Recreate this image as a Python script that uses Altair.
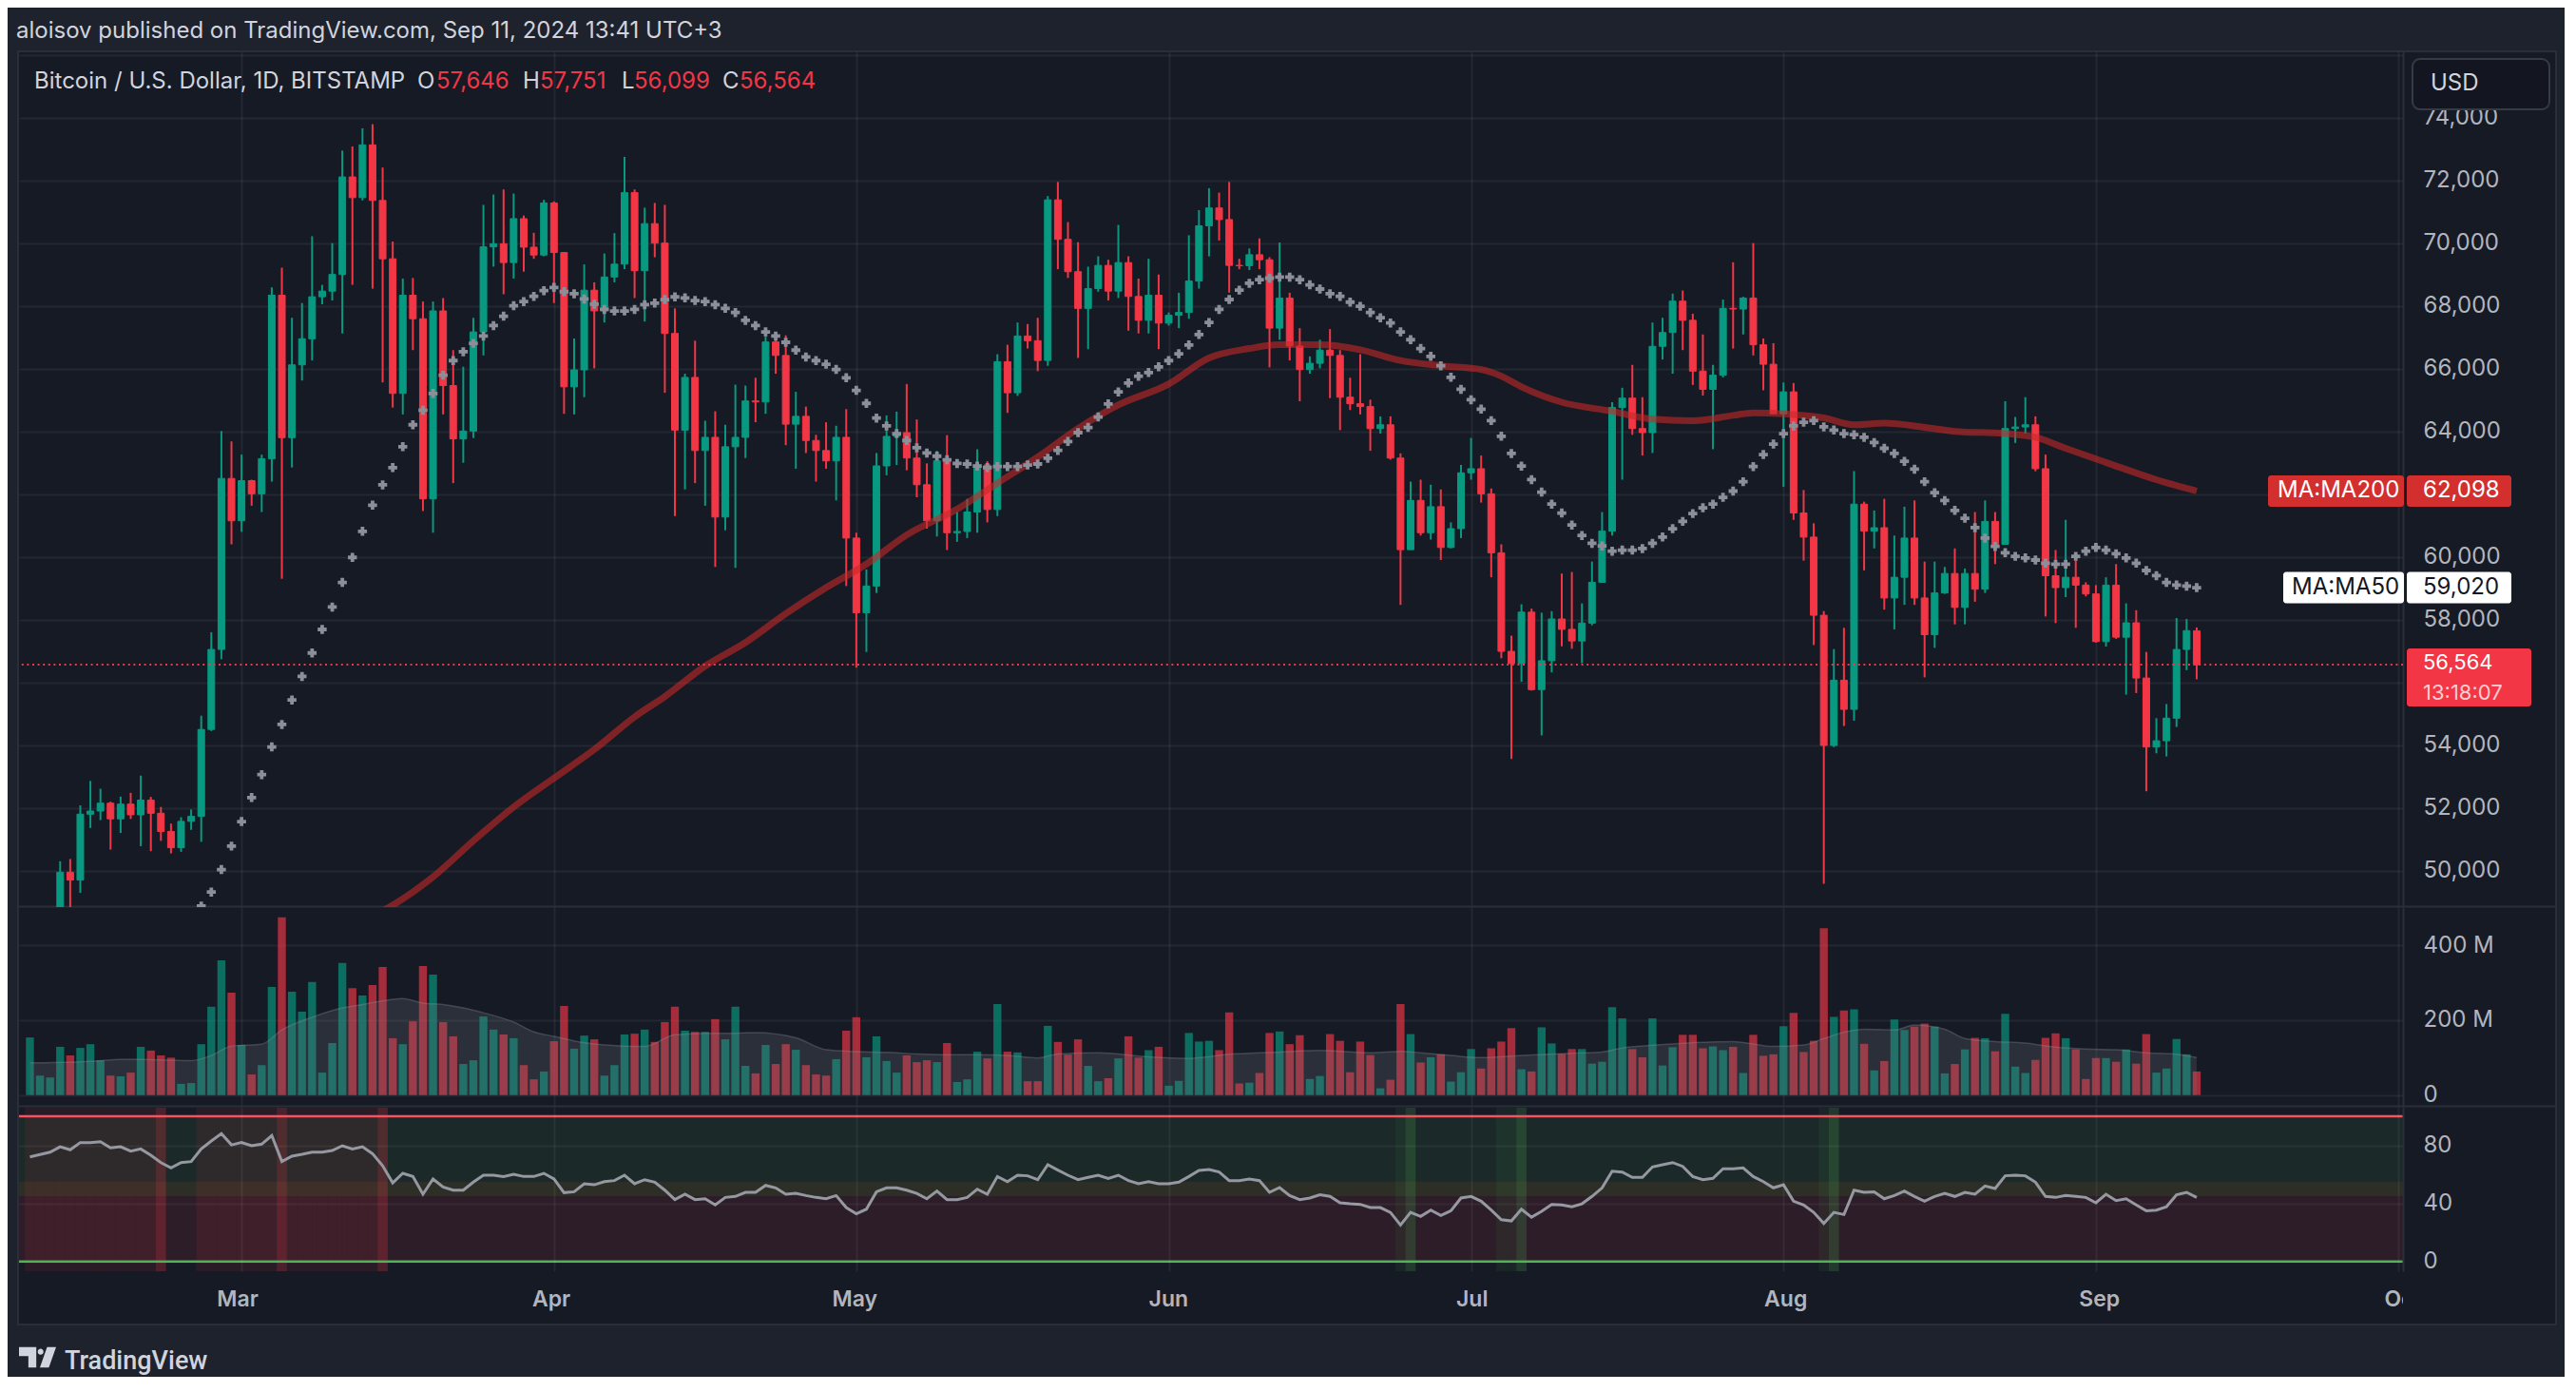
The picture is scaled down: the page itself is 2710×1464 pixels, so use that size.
import altair as alt
import pandas as pd

# ---------------- data ----------------
dates = pd.date_range("2024-02-09", "2024-09-11", freq="D").strftime("%Y-%m-%d").tolist()

opens = [
    45300, 47150, 47770, 48300, 49950, 49700, 51800, 51900, 52150, 51650, 52120, 51780, 52250, 51830, 51250, 50730, 51570, 51730, 54500, 57050, 62500,
    61150, 62430, 62010, 63130, 68340, 63800, 66120, 66950, 68290, 68470, 69000, 72110, 71450, 73130, 71360, 69500, 65210, 68340, 67590, 61850, 67840, 65460, 63760, 64010, 67170, 69880, 69980, 69380, 70780, 69870, 69620,
    71280, 69700, 65420, 65960, 68500, 67840, 68920, 69330, 71610, 69120, 70620, 70000, 67120, 64040, 65720, 63390, 63810, 61270, 63510, 63810, 64970, 64940, 66850, 66420, 64230, 64480, 63710, 63390, 63060, 63810,
    60600, 58220, 59070, 62900, 63840, 63960, 63150, 62300, 61150, 63060, 60770, 60810, 61430, 62930, 61510, 66220, 65230, 67040, 66890, 66260, 71380, 70120, 69090, 67920, 68550, 69290, 68470, 69380, 68300, 67540, 68340,
    67450, 67700, 67790, 68790, 70550, 71120, 70750, 69290, 69280, 69630, 69470, 67290, 68250, 66720, 65970, 66170, 66590, 66420, 65090, 64880, 64790, 64090, 64210, 63150, 60230, 61800, 60770, 61600, 60300, 60900,
    62680, 62810, 62010, 60130, 56990, 56600, 58240, 55770, 56690, 58020, 57690, 57320, 57890, 59190, 60820, 64760, 65060, 64090, 63960, 66710, 67150, 68150, 67540, 65920, 65340, 65790, 67920, 67900, 68250, 66760, 66140,
    64560, 65260, 61400, 60630, 58140, 53990, 56070, 55140, 61680, 60820, 60930, 58690, 59350, 60600, 58690, 57520, 58850, 59470, 58390, 59470, 58970, 61130, 60400, 64090, 64140, 64210, 62810, 59400, 59020, 59350, 59100,
    58820, 57300, 59100, 57440, 57900, 56140, 53940, 54140, 54860, 57050, 57646,
]
highs = [
    48200, 48150, 48600, 50300, 50370, 52080, 52860, 52610, 52200, 52360, 52480, 53030, 52350, 52030, 51500, 51700, 51950, 54940, 57600, 64010, 63680,
    63260, 62460, 63260, 68590, 69220, 67620, 68090, 70220, 68670, 70000, 72950, 73080, 73660, 73790, 72410, 70050, 68870, 68890, 68140, 68140, 68250, 66590, 66060, 67620, 71220, 71550, 71710, 71580, 70880, 70330, 71380,
    71330, 69700, 66960, 69320, 68750, 69670, 70320, 72750, 71710, 71130, 71280, 71220, 67920, 65840, 66890, 64340, 64640, 64210, 65490, 65460, 65710, 67260, 67170, 67060, 65260, 64790, 63890, 64290, 64180, 64710,
    60770, 59600, 63310, 64510, 64630, 65510, 64380, 62980, 63380, 63880, 61430, 61850, 63430, 63050, 66460, 66760, 67470, 67420, 67620, 71500, 71950, 70670, 70030, 69250, 69580, 69470, 70580, 69580, 68870, 69500, 69000,
    67790, 68420, 70250, 71050, 71750, 71610, 71950, 69500, 69830, 70150, 69550, 70020, 68420, 67290, 66390, 66920, 67260, 66590, 65710, 66460, 65010, 64480, 64480, 63300, 62400, 62460, 62300, 62150, 61100, 62930,
    63790, 63230, 62180, 60400, 57490, 58490, 58350, 58220, 58270, 59470, 59520, 58520, 59850, 61430, 64930, 65390, 66120, 65090, 67470, 67620, 68390, 68490, 67750, 67090, 66120, 68200, 69390, 68290, 70000, 66960, 66810,
    65560, 65540, 62130, 61070, 58270, 57060, 57740, 62730, 61760, 61480, 61850, 60680, 61600, 61800, 59850, 59850, 59680, 60270, 59630, 61430, 61800, 61430, 64960, 64460, 65090, 64480, 63260, 60220, 61180, 59880, 59190,
    59100, 59350, 59770, 58520, 58300, 56970, 54860, 55310, 58050, 58020, 57751,
]
lows = [
    45250, 46800, 47700, 47700, 48400, 49290, 51360, 51610, 50670, 51200, 51650, 50780, 50620, 50950, 50550, 50600, 51300, 50920, 54450, 56740, 60400,
    60800, 61630, 61430, 62400, 59300, 62850, 65620, 66260, 68050, 68170, 67120, 68670, 71360, 68550, 65560, 64760, 64540, 66590, 61460, 60770, 64540, 62350, 63000, 63790, 66420, 69250, 68370, 68870, 69090, 69500, 69580,
    68090, 64560, 64540, 65090, 66010, 67470, 68750, 69170, 68250, 67500, 69550, 65230, 61300, 62150, 62350, 61630, 59680, 60850, 59650, 63150, 64290, 64560, 65840, 63560, 62810, 63310, 62400, 62810, 61800, 59070,
    56470, 56970, 58850, 62600, 62930, 62760, 61900, 60900, 60650, 60220, 60480, 60600, 60770, 61100, 61300, 64590, 65130, 66640, 65920, 66090, 69170, 68890, 66340, 66620, 68450, 68170, 68250, 67210, 67120, 67120, 66620,
    67370, 67290, 67590, 68550, 69580, 70080, 68420, 69170, 69140, 69170, 66040, 66920, 66260, 64960, 65840, 66010, 65060, 64040, 64680, 64540, 63380, 63930, 63100, 58470, 60230, 60680, 60550, 59900, 60270, 60600,
    62460, 61730, 59350, 56770, 53560, 56020, 55740, 54310, 56320, 57150, 57070, 56610, 57820, 59180, 60680, 62460, 63890, 63230, 63310, 66290, 65840, 66590, 65480, 65140, 63430, 65720, 66640, 67090, 66420, 65310, 64550,
    62230, 61180, 59880, 57190, 49580, 53940, 54610, 54780, 59570, 60270, 58320, 57690, 58470, 58470, 56160, 57100, 58820, 57850, 57850, 58570, 58850, 59770, 60390, 63630, 63930, 62730, 58100, 57890, 58720, 57740, 58740,
    57270, 57140, 57390, 55610, 55660, 52530, 53740, 53640, 54580, 56390, 56099,
]
closes = [
    47150, 47770, 48300, 49950, 49700, 51800, 51900, 52150, 51650, 52120, 51780, 52250, 51830, 51250, 50730, 51570, 51730, 54500, 57050, 62500, 61150,
    62430, 62010, 63130, 68340, 63800, 66120, 66950, 68290, 68470, 69000, 72110, 71450, 73130, 71360, 69500, 65210, 68340, 67590, 61850, 67840, 65460, 63760, 64010, 67170, 69880, 69980, 69380, 70780, 69870, 69620, 71280,
    69700, 65420, 65960, 68500, 67840, 68920, 69330, 71610, 69120, 70620, 70000, 67120, 64040, 65720, 63390, 63810, 61270, 63510, 63810, 64970, 64940, 66850, 66420, 64230, 64480, 63710, 63390, 63060, 63810, 60600,
    58220, 59070, 62900, 63840, 63960, 63150, 62300, 61150, 63060, 60770, 60810, 61430, 62930, 61510, 66220, 65230, 67040, 66890, 66260, 71380, 70120, 69090, 67920, 68550, 69290, 68470, 69380, 68300, 67540, 68340, 67450,
    67700, 67790, 68790, 70550, 71120, 70750, 69290, 69280, 69630, 69470, 67290, 68250, 66720, 65970, 66170, 66590, 66420, 65090, 64880, 64790, 64090, 64210, 63150, 60230, 61800, 60770, 61600, 60300, 60900, 62680,
    62810, 62010, 60130, 56990, 56600, 58240, 55770, 56690, 58020, 57690, 57320, 57890, 59190, 60820, 64760, 65060, 64090, 63960, 66710, 67150, 68150, 67540, 65920, 65340, 65790, 67920, 67900, 68250, 66760, 66140, 64560,
    65260, 61400, 60630, 58140, 53990, 56070, 55140, 61680, 60820, 60930, 58690, 59350, 60600, 58690, 57520, 58850, 59470, 58390, 59470, 58970, 61130, 60400, 64090, 64140, 64210, 62810, 59400, 59020, 59350, 59100, 58820,
    57300, 59100, 57440, 57900, 56140, 53940, 54140, 54860, 57050, 57650, 56564,
]
volume_m = [
    154, 52, 47, 129, 106, 126, 136, 93, 52, 50, 60, 129, 119, 106, 100, 30, 32, 136, 236, 360, 274,
    134, 55, 80, 289, 475, 276, 223, 302, 60, 139, 353, 286, 266, 294, 342, 152, 136, 197, 345, 322, 195, 157, 83, 93, 210, 175, 162, 152, 80, 42, 63,
    144, 238, 124, 159, 149, 52, 80, 162, 164, 175, 142, 195, 236, 172, 169, 169, 203, 149, 236, 78, 58, 134, 83, 136, 121, 80, 55, 52, 96, 172,
    208, 101, 157, 91, 60, 106, 88, 93, 88, 139, 35, 42, 116, 98, 243, 116, 114, 37, 37, 185, 142, 108, 149, 78, 37, 45, 98, 157, 100, 120, 129,
    25, 38, 166, 143, 145, 120, 221, 31, 33, 59, 166, 170, 136, 160, 43, 51, 163, 145, 61, 143, 107, 18, 41, 243, 163, 87, 101, 109, 36, 61,
    123, 71, 125, 143, 179, 69, 63, 181, 138, 110, 123, 123, 84, 89, 235, 205, 123, 101, 205, 79, 128, 161, 161, 125, 130, 120, 129, 59, 161, 105, 109,
    184, 220, 115, 145, 446, 209, 226, 229, 137, 66, 91, 202, 174, 183, 191, 183, 58, 83, 122, 153, 152, 117, 217, 76, 59, 94, 153, 165, 152, 122, 43,
    99, 99, 89, 122, 84, 163, 60, 71, 150, 109, 63,
]
rsi_vals = [
    72, 73.6, 75.3, 79, 76.9, 81.9, 81.9, 82.5, 78.2, 79, 76, 77.5, 73.1, 68.1, 64.4, 68.1, 68.8, 77.5, 83, 88, 80.3,
    81.9, 79.7, 80.8, 86.7, 68.8, 72.5, 73.8, 75.3, 75.3, 76.4, 79.7, 77.5, 79, 74.2, 65.9, 54.1, 60.7, 58.5, 46.3, 56.8, 51.3, 49.1, 49.1, 54.6, 59.4, 59.4, 58.5, 60, 58.5, 58.5, 60.7,
    56.8, 47.4, 48, 53.5, 52.8, 55, 55.7, 59.4, 53.5, 56.3, 54.6, 49.1, 42.6, 46.3, 42.6, 43.2, 38.9, 44.1, 44.8, 47.6, 47.6, 52.4, 50.7, 46.3, 46.9, 45.4, 44.1, 43.2, 45.4, 37.1,
    32.8, 36, 48, 50.7, 50.7, 49.1, 46.9, 43.2, 48.5, 42.6, 42.6, 44.1, 49.8, 46.3, 58.5, 55, 59.4, 59, 56.3, 66.6, 62.9, 59.4, 56.3, 57.9, 59.4, 57.2, 59.4, 55.7, 53.5, 55, 53.5,
    53.5, 54.6, 58.5, 62.7, 63.3, 61.6, 55.7, 55.7, 56.8, 55.7, 47.6, 50.9, 45.4, 42.6, 43.7, 45.9, 44.8, 40.4, 39.7, 39.3, 37.1, 37.1, 33.8, 25.1, 33.8, 31, 35.4, 31.7, 34.9, 43.7,
    44.8, 41.5, 35.4, 28.8, 27.9, 36, 30.5, 34.5, 39.3, 38.9, 37.6, 39.7, 44.8, 50.7, 62.2, 61.6, 57.9, 57.9, 65.1, 66.6, 68.1, 65.5, 58.5, 56.3, 57.2, 63.8, 63.8, 64.4, 58.5, 55, 50.7,
    52.8, 41.5, 38.9, 33.8, 26.2, 33.8, 32.3, 49.1, 47.6, 48, 43.2, 45.4, 48.5, 44.8, 41.5, 44.8, 46.9, 44.8, 47.6, 46.3, 52, 50.2, 59, 59.4, 59, 54.6, 44.8, 44.1, 45.4, 44.8, 44.1,
    40.4, 46.3, 41.9, 43.2, 38.9, 34.9, 35.4, 37.6, 45.9, 47.6, 44.1,
]
ma50_dates = pd.date_range("2024-02-26", "2024-09-11", freq="D").strftime("%Y-%m-%d").tolist()
ma50_vals = [
    48870, 49318, 50033, 50782,
    51564, 52329, 53062, 53943, 54659, 55441, 56190, 56938, 57687, 58403, 59185, 59983, 60815, 61647, 62296, 62845, 63511, 64210, 64676, 65208, 65790, 66256, 66539, 66805, 67038, 67371, 67671, 68003, 68136, 68303, 68486,
    68586, 68453, 68386, 68220, 68053, 67887, 67837, 67837, 67887, 68037, 68087, 68200, 68286, 68253, 68170, 68136, 68037, 67920, 67787, 67537, 67371, 67171, 67038, 66839, 66589, 66373, 66256, 66140, 65973, 65707,
    65308, 64892, 64426, 64176, 63927, 63710, 63478, 63311, 63211, 63095, 62978, 62961, 62895, 62845, 62878, 62878, 62878, 62928, 62961, 63145, 63394, 63677, 63960, 64126, 64459, 64875, 65258, 65541, 65757, 65874, 66057,
    66256, 66473, 66755, 67088, 67471, 67887, 68203, 68502, 68719, 68835, 68885, 68918, 68918, 68835, 68669, 68536, 68386, 68303, 68120, 67987, 67787, 67621, 67454, 67171, 66922, 66639, 66389, 66090, 65724, 65341,
    65008, 64709, 64343, 63844, 63295, 62895, 62463, 62063, 61681, 61398, 61015, 60682, 60432, 60349, 60183, 60216, 60216, 60266, 60433, 60632, 60899, 61131, 61381, 61564, 61681, 61897, 62097, 62396, 62878, 63261, 63594,
    63927, 64176, 64293, 64343, 64143, 64043, 63927, 63894, 63810, 63644, 63461, 63295, 63045, 62795, 62396, 62047, 61797, 61481, 61231, 60932, 60599, 60333, 60133, 60017, 59967, 59900, 59800, 59767, 59767, 60017, 60183,
    60300, 60216, 60100, 59967, 59800, 59567, 59401, 59185, 59101, 59068, 59020,
]
ma200_dates = ["2024-03-13", "2024-03-16", "2024-03-20", "2024-03-24", "2024-03-28", "2024-04-01", "2024-04-05", "2024-04-09", "2024-04-12", "2024-04-16",
               "2024-04-20", "2024-04-24", "2024-04-28", "2024-05-02", "2024-05-06", "2024-05-11", "2024-05-15", "2024-05-19", "2024-05-23", "2024-05-27",
               "2024-06-01", "2024-06-05", "2024-06-09", "2024-06-12", "2024-06-16", "2024-06-20", "2024-06-24", "2024-06-28", "2024-07-02", "2024-07-04",
               "2024-07-06", "2024-07-10", "2024-07-15", "2024-07-19", "2024-07-23", "2024-07-27", "2024-07-29", "2024-08-01", "2024-08-05", "2024-08-08",
               "2024-08-11", "2024-08-15", "2024-08-18", "2024-08-23", "2024-08-26", "2024-08-29", "2024-09-02", "2024-09-07", "2024-09-11"]
ma200_vals = [48400, 48900, 49800, 50950, 52030, 52950, 53860, 54900, 55550, 56520,
              57270, 58190, 59020, 59770, 60700, 61520, 62350, 63180, 64090, 64840,
              65510, 66340, 66640, 66760, 66760, 66600, 66260, 66090, 65970, 65760,
              65420, 64930, 64640, 64390, 64340, 64510, 64590, 64560, 64430, 64210,
              64260, 64130, 64000, 63930, 63810, 63460, 63010, 62460, 62098]
volma_dates = ["2024-02-09", "2024-02-14", "2024-02-19", "2024-02-25", "2024-02-27", "2024-02-29",
               "2024-03-03", "2024-03-05", "2024-03-08", "2024-03-11", "2024-03-13", "2024-03-17", "2024-03-19", "2024-03-21", "2024-03-23", "2024-03-25", "2024-03-28", "2024-03-30",
               "2024-04-01", "2024-04-04", "2024-04-08", "2024-04-10", "2024-04-13", "2024-04-16", "2024-04-18", "2024-04-21", "2024-04-25", "2024-04-28",
               "2024-05-01", "2024-05-04", "2024-05-07", "2024-05-10", "2024-05-13", "2024-05-16", "2024-05-19", "2024-05-21", "2024-05-25", "2024-05-30",
               "2024-06-03", "2024-06-07", "2024-06-12", "2024-06-16", "2024-06-21", "2024-06-24", "2024-06-26", "2024-06-29",
               "2024-07-02", "2024-07-06", "2024-07-11", "2024-07-14", "2024-07-16", "2024-07-19", "2024-07-23", "2024-07-27", "2024-07-31",
               "2024-08-03", "2024-08-05", "2024-08-07", "2024-08-09", "2024-08-12", "2024-08-14", "2024-08-17", "2024-08-19", "2024-08-22", "2024-08-25", "2024-08-28", "2024-08-31",
               "2024-09-03", "2024-09-06", "2024-09-09", "2024-09-11"]
volma_vals = [86, 89, 96, 92, 106, 131,
              136, 174, 208, 233, 242, 258, 246, 242, 233, 220, 195, 169,
              157, 140, 131, 130, 161, 165, 165, 167, 153, 121,
              116, 114, 110, 108, 108, 106, 99, 110, 113, 102,
              98, 109, 115, 119, 113, 117, 113, 106,
              100, 106, 112, 115, 126, 133, 140, 143, 130,
              134, 151, 168, 176, 174, 187, 176, 151, 143, 139, 128, 123,
              121, 113, 109, 100]
month_starts = ["2024-03-01", "2024-04-01", "2024-05-01", "2024-06-01", "2024-07-01", "2024-08-01", "2024-09-01", "2024-10-01"]
month_labels = ["Mar", "Apr", "May", "Jun", "Jul", "Aug", "Sep", "Oct"]
rsi_zone_lo = [55, 45, 0]
rsi_zone_hi = [100, 55, 45]
price_ticks = list(range(50000, 76001, 2000))
vol_ticks = [0, 200, 400]
rsi_ticks = [0, 40, 80]
countdown = "13:18:07"

# ---------------- tables ----------------
df = pd.DataFrame({"date": dates, "open": opens, "high": highs, "low": lows, "close": closes,
                   "vol": volume_m, "rsi": rsi_vals})
df["dir"] = ["up" if c >= o else "down" for o, c in zip(opens, closes)]
prev = df["rsi"].shift(1)
df["sig"] = ""
df.loc[df["rsi"] > 70, "sig"] = "ob"
df.loc[(df["rsi"] <= 70) & (prev > 70), "sig"] = "obx"
df.loc[df["rsi"] < 30, "sig"] = "os"
df.loc[(df["rsi"] >= 30) & (prev < 30), "sig"] = "osx"
ma50_df = pd.DataFrame({"date": ma50_dates, "v": ma50_vals})
ma200_df = pd.DataFrame({"date": ma200_dates, "v": ma200_vals})
volma_df = pd.DataFrame({"date": volma_dates, "v": volma_vals})
month_df = pd.DataFrame({"date": month_starts, "lab": month_labels})

# ---------------- style ----------------
W = 2508
H_P, H_V, H_R, H_T = 900, 211, 172, 56
BG_FRAME = "#161a25"
BG_PAGE = "#1e222d"
BORDER = "#2a2e39"
TXT = "#d1d4dc"
AX_TXT = "#b2b5be"
GREEN = "#089981"
RED = "#f23645"
FONT = "Inter"
ONE = alt.Data(values=[{"k": 0}])

X_DOMAIN = [alt.DateTime(year=2024, month=2, date=8, hours=9, minutes=22, utc=True),
            alt.DateTime(year=2024, month=10, date=1, utc=True)]
MONTH_VALS = [alt.DateTime(year=2024, month=m, date=1, utc=True) for m in range(3, 11)]


def X(z=0):
    return alt.X("date:T", scale=alt.Scale(type="utc", domain=X_DOMAIN),
                 axis=alt.Axis(values=MONTH_VALS, grid=True, gridColor="#ffffff", gridOpacity=0.06,
                               gridWidth=2, labels=False, ticks=False, domain=False, title=None, zindex=z))


def yaxis(values, z=0, **kw):
    return alt.Axis(orient="right", values=values, grid=True, gridColor="#ffffff", gridOpacity=0.06,
                    gridWidth=2, ticks=False, domain=True, domainColor=BORDER, domainWidth=2,
                    labelPadding=21, labelFontSize=24, labelColor=AX_TXT, labelFont=FONT,
                    labelBaseline="middle", title=None, zindex=z, **kw)


# labels at 56,000 / 62,000 / 76,000 sit under the price tags (or the pane edge) in the reference
P_SCALE = alt.Scale(domain=[48839, 76112], nice=False, zero=False)
P_AXIS = yaxis(price_ticks, labelExpr=(
    "(datum.value >= 76000 || datum.value == 56000 || datum.value == 62000) ? '' : format(datum.value, ',')"))
V_SCALE = alt.Scale(domain=[-33.8, 502.4], nice=False, zero=False)
V_AXIS = yaxis(vol_ticks, labelExpr="datum.value == 0 ? '0' : datum.value + ' M'")
R_SCALE = alt.Scale(domain=[-6.75, 105.9], nice=False, zero=False)
R_AXIS = yaxis(rsi_ticks, z=1)

CDIR = alt.Color("dir:N", scale=alt.Scale(domain=["up", "down"], range=[GREEN, RED]), legend=None)
SDIR = alt.Stroke("dir:N", scale=alt.Scale(domain=["up", "down"], range=[GREEN, RED]), legend=None)


def PY(f):
    return alt.Y(f, type="quantitative", scale=P_SCALE, axis=P_AXIS)


def px_rect(x0, x1, y0, y1, **kw):
    return alt.Chart(ONE).mark_rect(**kw).encode(x=alt.value(x0), x2=alt.value(x1),
                                                 y=alt.value(y0), y2=alt.value(y1))


def px_text(x, y, s, **kw):
    base = dict(align="left", baseline="alphabetic", font=FONT)
    base.update(kw)
    return alt.Chart(ONE).mark_text(text=s, **base).encode(x=alt.value(x), y=alt.value(y))


def hrule(x0, x1, y):
    return alt.Chart(ONE).mark_rule(color=BORDER, strokeWidth=2).encode(
        x=alt.value(x0), x2=alt.value(x1), y=alt.value(y))


# ---------------- price pane ----------------
frame = [
    px_rect(-12, 2678, -46, 0, color=BG_PAGE),
    px_rect(-12, 2678, 1339, 1394, color=BG_PAGE),
    px_rect(-12, -1, 0, 1339, color=BG_PAGE),
    px_rect(2669, 2678, 0, 1339, color=BG_PAGE),
    px_rect(-1, 2669, 0, 1339, fill="transparent", stroke=BORDER, strokeWidth=2),
    hrule(-1, 2669, 899.5),
]

wicks = alt.Chart(df).mark_rule(strokeWidth=2, clip=True).encode(x=X(), y=PY("low"), y2="high:Q", color=CDIR)
bodies = alt.Chart(df).mark_bar(size=7, strokeWidth=1, clip=True).encode(
    x=X(), y=PY("open"), y2="close:Q", color=CDIR, stroke=SDIR)
ma200_line = alt.Chart(ma200_df).mark_line(strokeWidth=7, color="#c62828", opacity=0.6,
                                           interpolate="monotone", clip=True).encode(x=X(), y=PY("v"))
ma50_pts = alt.Chart(ma50_df).mark_point(shape="cross", filled=True, size=90, color="#8c8f99",
                                         opacity=1, clip=True).encode(x=X(), y=PY("v"))

last = {"o": opens[-1], "h": highs[-1], "l": lows[-1], "c": closes[-1]}
cur = alt.Data(values=[{"v": closes[-1]}])
m200 = alt.Data(values=[{"v": ma200_vals[-1]}])
m50 = alt.Data(values=[{"v": ma50_vals[-1]}])

price_line = alt.Chart(cur).mark_rule(color=RED, strokeWidth=2, strokeDash=[2, 3.6]).encode(y=PY("v"))


def tag(data, x_name0, x_name1, name, fill, txtcol, x_val1):
    calc = dict(top="datum.v + 500", bot="datum.v - 500")
    box_name = alt.Chart(data).transform_calculate(**calc).mark_rect(
        color=fill, cornerRadius=3).encode(x=alt.value(x_name0), x2=alt.value(2509), y=PY("top"), y2="bot:Q")
    box_val = alt.Chart(data).transform_calculate(**calc).mark_rect(
        color=fill, cornerRadius=3).encode(x=alt.value(2512), x2=alt.value(x_val1), y=PY("top"), y2="bot:Q")
    t_name = alt.Chart(data).mark_text(text=name, align="left", baseline="middle", fontSize=24,
                                       color=txtcol, font=FONT).encode(x=alt.value(x_name1), y=PY("v"))
    t_val = alt.Chart(data).mark_text(align="left", baseline="middle", fontSize=24, color=txtcol,
                                      font=FONT).encode(x=alt.value(2529), y=PY("v"),
                                                        text=alt.Text("v:Q", format=",.0f"))
    return [box_name, box_val, t_name, t_val]


tags = tag(m200, 2366, 2376, "MA:MA200", "#d32f2f", "#ffffff", 2622) + \
    tag(m50, 2382, 2391, "MA:MA50", "#ffffff", "#131722", 2622)

cur_box = alt.Chart(cur).transform_calculate(top="datum.v + 518", bot="datum.v - 1331").mark_rect(
    color=RED, cornerRadius=3).encode(x=alt.value(2512), x2=alt.value(2643), y=PY("top"), y2="bot:Q")
cur_txt = alt.Chart(cur).mark_text(align="left", baseline="middle", fontSize=22, color="#ffffff",
                                   font=FONT, dy=-2).encode(x=alt.value(2529), y=PY("v"),
                                                            text=alt.Text("v:Q", format=",.0f"))
cur_cd = alt.Chart(cur).mark_text(text=countdown, align="left", baseline="middle", fontSize=22,
                                  color="rgba(255,255,255,0.75)", font=FONT, dy=30).encode(
    x=alt.value(2529), y=PY("v"))

usd = [
    px_rect(2518, 2662, 8, 61, fill="#131620", stroke="#363a45", strokeWidth=2, cornerRadius=8),
    px_text(2537, 34, "USD", baseline="middle", fontSize=24, color=TXT),
]

LEG = 39
legend = [
    px_text(16, LEG, "Bitcoin / U.S. Dollar, 1D, BITSTAMP", fontSize=24, color=TXT),
    px_text(419, LEG, "O", fontSize=24, color=TXT),
    px_text(439, LEG, f"{last['o']:,}", fontSize=24, color=RED),
    px_text(530, LEG, "H", fontSize=24, color=TXT),
    px_text(548, LEG, f"{last['h']:,}", fontSize=24, color=RED),
    px_text(634, LEG, "L", fontSize=24, color=TXT),
    px_text(647, LEG, f"{last['l']:,}", fontSize=24, color=RED),
    px_text(740, LEG, "C", fontSize=24, color=TXT),
    px_text(758, LEG, f"{last['c']:,}", fontSize=24, color=RED),
    px_text(-3, -14, "aloisov published on TradingView.com, Sep 11, 2024 13:41 UTC+3", fontSize=24, color=TXT),
]

price = alt.layer(*frame, wicks, bodies, ma200_line, ma50_pts, price_line, *tags, cur_box, cur_txt, cur_cd,
                  *usd, *legend).properties(width=W, height=H_P)

# ---------------- volume pane ----------------
vbars = alt.Chart(df).mark_bar(size=8.4, opacity=0.65, clip=True).encode(
    x=X(), y=alt.Y("vol:Q", scale=V_SCALE, axis=V_AXIS), y2=alt.datum(0), color=CDIR)
varea = alt.Chart(volma_df).mark_area(color="#787b86", opacity=0.22, interpolate="monotone", clip=True,
                                      line={"color": "#9598a1", "strokeWidth": 1.5, "opacity": 0.3}).encode(
    x=X(), y=alt.Y("v:Q", scale=V_SCALE, axis=V_AXIS), y2=alt.datum(0))
volume = alt.layer(vbars, varea, hrule(-1, 2669, 209.5)).properties(width=W, height=H_V)

# ---------------- RSI pane ----------------
zone_cols = ["rgba(76,175,80,0.1)", "rgba(255,235,59,0.1)", "rgba(242,54,69,0.1)"]
zones = [alt.Chart(alt.Data(values=[{"lo": lo, "hi": hi}])).mark_rect(color=col).encode(
    x=alt.value(0), x2=alt.value("width"), y=alt.Y("hi:Q", scale=R_SCALE, axis=R_AXIS), y2="lo:Q")
    for lo, hi, col in zip(rsi_zone_lo, rsi_zone_hi, zone_cols)]
sig_cols = {"ob": "rgba(242,54,69,0.09)", "obx": "rgba(242,54,69,0.25)",
            "os": "rgba(76,175,80,0.08)", "osx": "rgba(76,175,80,0.22)"}
sigs = [alt.Chart(df[df["sig"] == k][["date"]]).mark_bar(size=10.65, color=c).encode(
    x=X(1), y=alt.value(0), y2=alt.value("height")) for k, c in sig_cols.items()]
lvl_hi = alt.Chart(alt.Data(values=[{"v": 100}])).mark_rule(color="#f7525f", strokeWidth=2.5).encode(
    y=alt.Y("v:Q", scale=R_SCALE, axis=R_AXIS))
lvl_lo = alt.Chart(alt.Data(values=[{"v": 0}])).mark_rule(color="#4caf50", strokeWidth=2.5).encode(
    y=alt.Y("v:Q", scale=R_SCALE, axis=R_AXIS))
rsi_line = alt.Chart(df).mark_line(color="#9598a1", strokeWidth=3, clip=True).encode(
    x=X(1), y=alt.Y("rsi:Q", scale=R_SCALE, axis=R_AXIS))
rsi = alt.layer(*zones, *sigs, lvl_hi, lvl_lo, rsi_line).properties(width=W, height=H_R)

# ---------------- time axis + footer ----------------
LOGO = ("M-1,-0.553L-0.068,-0.553L-0.068,0.553L-0.495,0.553L-0.495,-0.068L-1,-0.068Z"
        "M0.126,0.553L0.612,0.553L1,-0.553L0.515,-0.553Z"
        "M0.01,-0.301A0.155,0.155 0 1,0 0.32,-0.301A0.155,0.155 0 1,0 0.01,-0.301Z")
mlabels = alt.Chart(month_df).mark_text(fontSize=23, fontWeight=600, color=AX_TXT, baseline="middle",
                                        font=FONT, clip=True).encode(
    x=alt.X("date:T", scale=alt.Scale(type="utc", domain=X_DOMAIN), axis=None),
    y=alt.value(30), text="lab:N")
logo = alt.Chart(ONE).mark_point(shape=LOGO, filled=True, size=1521, color=TXT, opacity=1, strokeWidth=0).encode(
    x=alt.value(19.5), y=alt.value(90.5))
brand = px_text(48, 103, "TradingView", font="Roboto", fontSize=27, fontWeight=500, color=TXT)
timeaxis = alt.layer(mlabels, logo, brand).properties(width=W, height=H_T)

chart = alt.vconcat(price, volume, rsi, timeaxis, spacing=0, bounds="flush").resolve_scale(
    x="independent", y="independent", color="independent", stroke="independent"
).properties(padding=0, background=BG_FRAME).configure(
    font=FONT, view=alt.ViewConfig(strokeWidth=0))

chart.save("out.html", embed_options={"renderer": "svg", "actions": False})
